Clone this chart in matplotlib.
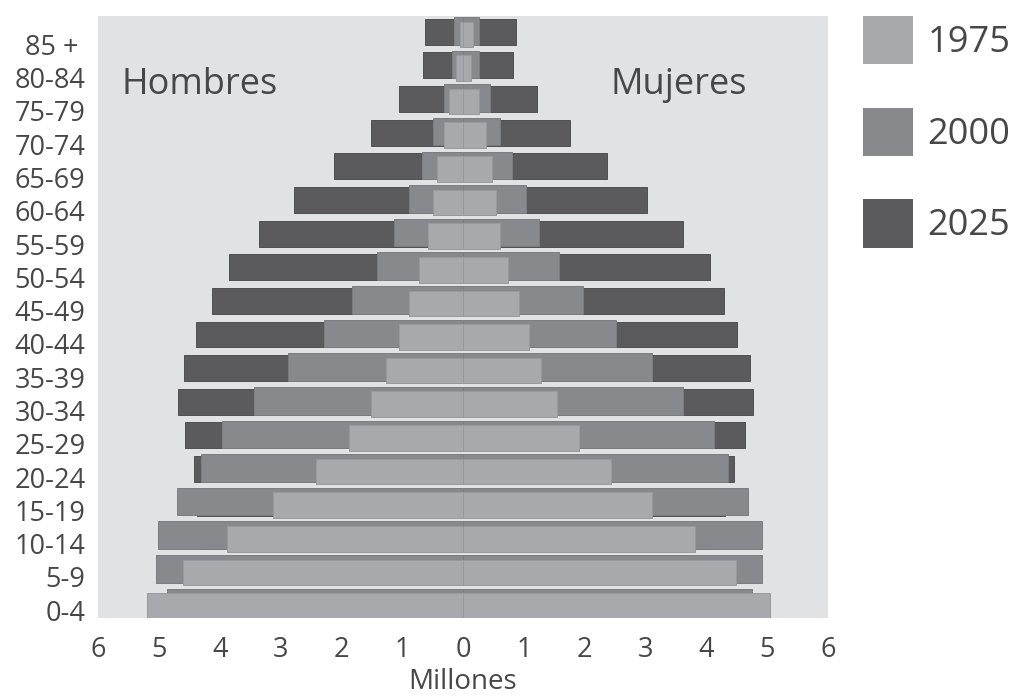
import numpy as np
import matplotlib
matplotlib.use("Agg")
import matplotlib.pyplot as plt
from matplotlib.patches import Patch

plt.rcParams['font.family'] = ['Open Sans', 'DejaVu Sans']

ages = ["0-4", "5-9", "10-14", "15-19", "20-24", "25-29", "30-34", "35-39",
        "40-44", "45-49", "50-54", "55-59", "60-64", "65-69", "70-74",
        "75-79", "80-84", "85 + "]

# millions (men, women) per year
men_1975 = [5.20, 4.60, 3.88, 3.13, 2.41, 1.88, 1.52, 1.27, 1.06, 0.89,
            0.72, 0.58, 0.49, 0.43, 0.31, 0.23, 0.12, 0.05]
women_1975 = [5.05, 4.49, 3.82, 3.10, 2.44, 1.90, 1.55, 1.29, 1.09, 0.92,
              0.74, 0.61, 0.54, 0.48, 0.37, 0.26, 0.13, 0.16]
men_2000 = [4.87, 5.05, 5.02, 4.70, 4.31, 3.96, 3.44, 2.87, 2.29, 1.83,
            1.41, 1.13, 0.88, 0.67, 0.49, 0.32, 0.18, 0.15]
women_2000 = [4.75, 4.92, 4.92, 4.68, 4.36, 4.12, 3.62, 3.10, 2.51, 1.98,
              1.57, 1.25, 1.04, 0.80, 0.61, 0.44, 0.27, 0.27]
men_2025 = [4.00, 4.14, 4.28, 4.37, 4.42, 4.57, 4.68, 4.59, 4.39, 4.12,
            3.85, 3.36, 2.77, 2.12, 1.52, 1.05, 0.65, 0.62]
women_2025 = [3.95, 4.05, 4.18, 4.30, 4.46, 4.63, 4.76, 4.71, 4.51, 4.29,
              4.06, 3.62, 3.03, 2.37, 1.76, 1.22, 0.83, 0.87]

years = ["1975", "2000", "2025"]
colors = {"1975": "#a8a9ac", "2000": "#88898c", "2025": "#5b5b5e"}
edges = {"1975": "#98999c", "2000": "#7c7d80", "2025": "#505053"}
text_color = "#474747"

fig = plt.figure(figsize=(10.12, 7.0), dpi=100)
ax = fig.add_axes([98 / 1012, 1 - 618 / 700, 730 / 1012, (618 - 16) / 700])
ax.set_facecolor("#e1e2e4")

y = np.arange(len(ages))
series = [
    ("2025", men_2025, women_2025, 0.0, 0.77),
    ("2000", men_2000, women_2000, 0.03, 0.82),
    ("1975", men_1975, women_1975, -0.075, 0.76),
]
for z, (yr, m, w, off, h) in enumerate(series):
    ax.barh(y + off, -np.array(m), height=h, color=colors[yr],
            edgecolor=edges[yr], linewidth=0.7, zorder=2 + z)
    ax.barh(y + off, np.array(w), height=h, color=colors[yr],
            edgecolor=edges[yr], linewidth=0.7, zorder=2 + z)

ax.set_xlim(-6, 6)
ax.set_ylim(-0.43, 17.47)
xt = np.arange(-6, 7)
ax.set_xticks(xt)
ax.set_xticklabels([str(abs(v)) for v in xt])
ax.set_yticks(y * 0.99 - 0.2)
ax.set_yticklabels(ages)
ax.tick_params(axis='both', length=0, labelsize=19.5, colors=text_color)
ax.tick_params(axis='x', pad=13)
ax.tick_params(axis='y', pad=9)
for s in ax.spines.values():
    s.set_visible(False)
ax.set_xlabel("Millones", fontsize=20, color=text_color, labelpad=3)

ax.text(-5.61, 15.16, "Hombres", fontsize=26, color=text_color,
        ha='left', va='baseline', zorder=10)
ax.text(4.67, 15.16, "Mujeres", fontsize=26, color=text_color,
        ha='right', va='baseline', zorder=10)

handles = [Patch(facecolor=colors[yr], edgecolor='none', label=yr) for yr in years]
fig.legend(handles=handles, loc='upper left',
           bbox_to_anchor=(863 / 1012, 1 - 16 / 700), frameon=False,
           fontsize=26, handlelength=1.39, handleheight=1.68,
           labelspacing=1.2, handletextpad=0.4, borderpad=0,
           borderaxespad=0, labelcolor=text_color)

fig.savefig("out.png", dpi=100, facecolor="white")
